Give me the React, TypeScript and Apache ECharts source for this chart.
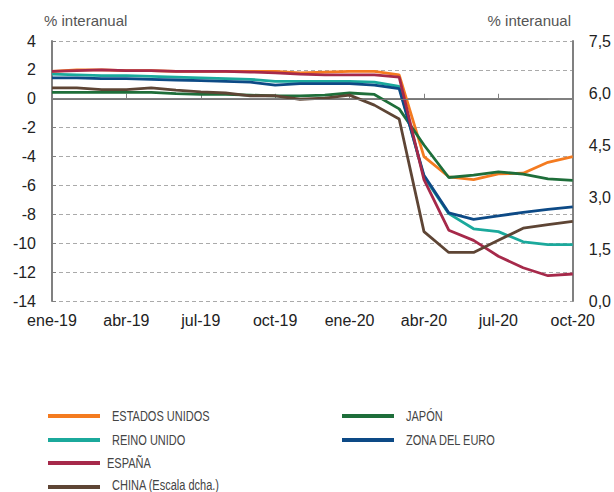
import React, { useEffect, useRef } from "react";
import * as echarts from "echarts";

const months = [
  "ene-19", "feb-19", "mar-19", "abr-19", "may-19", "jun-19", "jul-19", "ago-19", "sep-19", "oct-19", "nov-19", "dic-19",
  "ene-20", "feb-20", "mar-20", "abr-20", "may-20", "jun-20", "jul-20", "ago-20", "sep-20", "oct-20",
];

const estadosUnidos = [1.9, 2.0, 2.0, 1.95, 1.95, 1.9, 1.9, 1.9, 1.9, 1.9, 1.8, 1.85, 1.9, 1.9, 1.65, -4.0, -5.4, -5.6, -5.2, -5.15, -4.4, -4.0];
const japon = [0.45, 0.45, 0.45, 0.45, 0.45, 0.35, 0.3, 0.3, 0.25, 0.2, 0.2, 0.25, 0.4, 0.3, -0.7, -3.2, -5.45, -5.28, -5.06, -5.22, -5.55, -5.65];
const reinoUnido = [1.7, 1.65, 1.6, 1.6, 1.55, 1.5, 1.45, 1.4, 1.35, 1.2, 1.2, 1.2, 1.2, 1.15, 0.85, -5.4, -7.95, -9.0, -9.2, -9.9, -10.1, -10.1];
const zonaEuro = [1.45, 1.45, 1.4, 1.4, 1.35, 1.3, 1.25, 1.2, 1.15, 0.95, 1.05, 1.05, 1.05, 0.95, 0.7, -5.3, -7.9, -8.35, -8.1, -7.87, -7.66, -7.48];
const espana = [1.9, 1.95, 2.0, 1.95, 1.95, 1.9, 1.9, 1.9, 1.85, 1.8, 1.7, 1.65, 1.65, 1.65, 1.5, -5.6, -9.1, -9.8, -10.9, -11.7, -12.25, -12.13];
const china = [6.15, 6.15, 6.1, 6.1, 6.15, 6.08, 6.03, 6.0, 5.92, 5.92, 5.82, 5.85, 5.94, 5.65, 5.25, 2.0, 1.4, 1.4, 1.75, 2.1, 2.2, 2.3];

const seriesNames = ["ESTADOS UNIDOS", "JAPÓN", "REINO UNIDO", "ZONA DEL EURO", "ESPAÑA", "CHINA (Escala dcha.)"];
const seriesColors = ["#F47B20", "#1E6E3A", "#1BA99C", "#0D4A86", "#A6294A", "#5E4535"];

const leftTicks = { min: -14, max: 4, interval: 2 };
const rightTicks = { min: 0, max: 7.5, interval: 1.5 };

const FONT = "'Liberation Sans', Arial, Helvetica, sans-serif";

// legend layout: [series index, column, row]
const legendLayout = [
  [0, 0, 0],
  [2, 0, 1],
  [4, 0, 2],
  [5, 0, 3],
  [1, 1, 0],
  [3, 1, 1],
];
const legendColX = [48, 342];
const legendRowY = [416, 440, 463, 487];
const legendTextY = [416, 440, 463, 484.5];

export default function App() {
  const ref = useRef<HTMLDivElement>(null);
  useEffect(() => {
    if (!ref.current) return;
    const chart = echarts.init(ref.current, null, { renderer: "svg" });
    const allData = [estadosUnidos, japon, reinoUnido, zonaEuro, espana, china];
    const series = allData.map((data, i) => ({
      name: seriesNames[i],
      type: "line",
      data,
      yAxisIndex: i === 5 ? 1 : 0,
      symbol: "none",
      lineStyle: { color: seriesColors[i], width: 2.8 },
      itemStyle: { color: seriesColors[i] },
      ...(i === 0
        ? {
            markLine: {
              silent: true,
              symbol: "none",
              label: { show: false },
              lineStyle: { color: "#777", type: "solid", width: 1 },
              data: [[{ coord: ["ene-19", 0] }, { coord: ["sep-20", 0] }]],
            },
          }
        : {}),
    }));

    const legendGraphics: any[] = [];
    legendLayout.forEach(([si, col, row]) => {
      const x = legendColX[col];
      const y = legendRowY[row];
      legendGraphics.push({
        type: "rect",
        silent: true,
        shape: { x, y: y - 2, width: 52, height: 4 },
        style: { fill: seriesColors[si] },
      });
      legendGraphics.push({
        type: "text",
        silent: true,
        x: x + (si === 4 ? 59 : 64),
        y: legendTextY[row],
        scaleX: 0.76,
        style: {
          text: seriesNames[si],
          fontSize: 14.5,
          fill: "#444",
          fontFamily: FONT,
          verticalAlign: "middle",
          align: "left",
        },
      });
    });

    chart.setOption({
      animation: false,
      grid: { left: 52, right: 41, top: 41, bottom: 191, containLabel: false },
      graphic: [
        { type: "text", left: 44, top: 13, style: { text: "% interanual", fontSize: 15, fill: "#555", fontFamily: FONT } },
        { type: "text", right: 43, top: 13, style: { text: "% interanual", fontSize: 15, fill: "#555", fontFamily: FONT } },
        ...legendGraphics,
      ],
      xAxis: {
        type: "category",
        data: months,
        boundaryGap: false,
        axisLine: { lineStyle: { color: "#808080", width: 2 } },
        axisTick: { inside: true, length: 5, interval: 2, lineStyle: { color: "#808080", width: 1 } },
        axisLabel: { interval: 2, fontSize: 16, color: "#222", margin: 11, fontFamily: FONT },
        splitLine: { show: false },
      },
      yAxis: [
        {
          type: "value",
          position: "left",
          ...leftTicks,
          axisLine: { show: true, lineStyle: { color: "#808080", width: 2 } },
          axisTick: { show: true, inside: true, length: 4, lineStyle: { color: "#808080" } },
          axisLabel: { fontSize: 16, color: "#222", margin: 16, fontFamily: FONT },
          splitLine: { show: true, lineStyle: { type: [4, 3], color: "#aaa", width: 1 } },
        },
        {
          type: "value",
          position: "right",
          ...rightTicks,
          axisLine: { show: true, lineStyle: { color: "#808080", width: 2 } },
          axisTick: { show: false },
          axisLabel: {
            fontSize: 16,
            color: "#222",
            margin: 16,
            fontFamily: FONT,
            formatter: (v: number) => v.toFixed(1).replace(".", ","),
          },
          splitLine: { show: false },
        },
      ],
      series,
    });
    return () => chart.dispose();
  }, []);
  return <div ref={ref} style={{ width: 614, height: 492, position: "absolute", left: 0, top: 0 }} />;
}
